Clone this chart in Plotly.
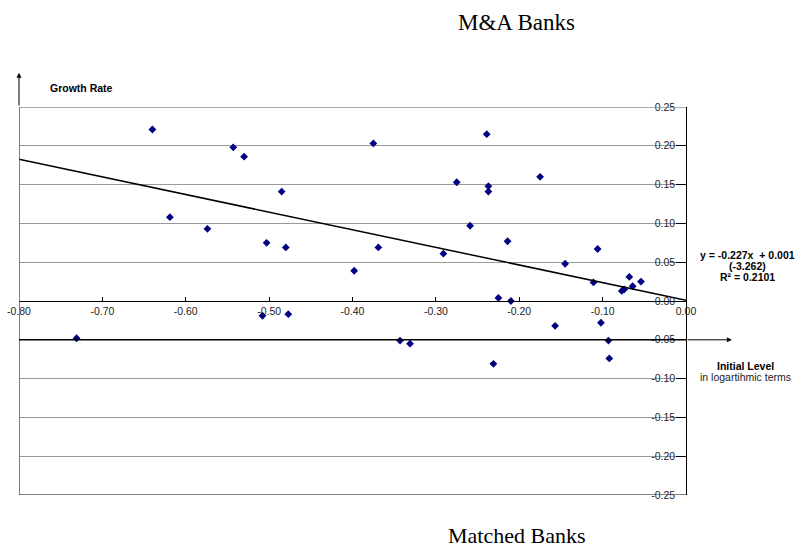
import plotly.graph_objects as go

# Initial level (log terms) and growth rate for each bank
initial_level = [
    -0.640, -0.543, -0.530, -0.619, -0.574, -0.731,
    -0.375, -0.239, -0.485, -0.275, -0.237, -0.237, -0.259, -0.503, -0.480,
    -0.369, -0.291, -0.398, -0.225, -0.508, -0.477, -0.343, -0.331,
    -0.175, -0.214, -0.145, -0.106, -0.111, -0.068, -0.054, -0.064, -0.077,
    -0.074, -0.210, -0.157, -0.102, -0.093, -0.092, -0.231,
]
growth_rate = [
    0.221, 0.198, 0.186, 0.108, 0.093, -0.048,
    0.203, 0.215, 0.141, 0.153, 0.148, 0.141, 0.097, 0.075, 0.069,
    0.069, 0.061, 0.039, 0.004, -0.019, -0.017, -0.051, -0.055,
    0.160, 0.077, 0.048, 0.067, 0.024, 0.031, 0.025, 0.019, 0.013,
    0.015, 0.000, -0.032, -0.028, -0.051, -0.074, -0.081,
]

# Fitted trend line
slope = -0.227
intercept = 0.001
t_stat = -3.262
r_squared = 0.2101

x_ticks = [-0.8, -0.7, -0.6, -0.5, -0.4, -0.3, -0.2, -0.1, 0.0]
x_tick_labels = ["-0.80", "-0.70", "-0.60", "-0.50", "-0.40", "-0.30", "-0.20", "-0.10", "0.00"]
y_ticks = [-0.25, -0.20, -0.15, -0.10, -0.05, 0.0, 0.05, 0.10, 0.15, 0.20, 0.25]
y_tick_labels = ["-0.25", "-0.20", "-0.15", "-0.10", "-0.05", "0.00", "0.05", "0.10", "0.15", "0.20", "0.25"]

X_MIN, X_MAX = -0.8, 0.0
Y_MIN, Y_MAX = -0.25, 0.25

fig = go.Figure()

fig.add_trace(go.Scatter(
    x=initial_level, y=growth_rate, mode="markers",
    marker=dict(symbol="diamond", size=6, color="#000080"),
    showlegend=False, hoverinfo="x+y",
))

trend_x = [X_MIN, X_MAX]
trend_y = [slope * v + intercept for v in trend_x]
fig.add_trace(go.Scatter(
    x=trend_x, y=trend_y, mode="lines",
    line=dict(color="black", width=1.5),
    showlegend=False, hoverinfo="skip",
))

tick_font = dict(family="Arial, Liberation Sans, sans-serif", size=10.5, color="#222")

fig.update_layout(
    width=802, height=550,
    margin=dict(l=19, r=116, t=107, b=55),
    paper_bgcolor="white", plot_bgcolor="white",
    xaxis=dict(
        range=[X_MIN, X_MAX], tickvals=x_ticks, ticktext=x_tick_labels,
        anchor="free", position=0.5, automargin=False,
        showline=True, linecolor="black", linewidth=1,
        ticks="inside", ticklen=4, tickcolor="black",
        showgrid=False, zeroline=False, tickfont=tick_font,
    ),
    yaxis=dict(
        range=[Y_MIN, Y_MAX], tickvals=y_ticks, ticktext=y_tick_labels,
        side="right", ticklabelposition="inside", ticklabeloverflow="allow",
        automargin=False,
        showline=True, linecolor="black", linewidth=1,
        ticks="inside", ticklen=10, tickcolor="black",
        showgrid=True, gridcolor="#999999", gridwidth=1.3,
        zeroline=False, tickfont=tick_font,
    ),
)

# Plot frame and the dark reference line at -0.05
fig.add_shape(type="line", xref="x", yref="y", x0=X_MIN, x1=X_MIN, y0=Y_MIN, y1=Y_MAX,
              line=dict(color="#555", width=1.5))
fig.add_shape(type="line", xref="x", yref="y", x0=X_MIN, x1=X_MAX, y0=Y_MAX, y1=Y_MAX,
              line=dict(color="#8c8c8c", width=1.3))
fig.add_shape(type="line", xref="x", yref="y", x0=X_MIN, x1=X_MAX, y0=Y_MIN, y1=Y_MIN,
              line=dict(color="#555", width=1.3))
fig.add_shape(type="line", xref="x", yref="y", x0=X_MIN, x1=X_MAX, y0=-0.05, y1=-0.05,
              line=dict(color="black", width=1.5))

# Axis arrows
fig.add_annotation(x=X_MIN, y=0.294, ax=X_MIN, ay=Y_MAX, xref="x", yref="y",
                   axref="x", ayref="y", text="", showarrow=True,
                   arrowhead=2, arrowsize=1, arrowwidth=1, arrowcolor="black")
fig.add_annotation(x=0.055, y=-0.05, ax=X_MAX, ay=-0.05, xref="x", yref="y",
                   axref="x", ayref="y", text="", showarrow=True,
                   arrowhead=2, arrowsize=1, arrowwidth=1, arrowcolor="black")

sans = "Arial, Liberation Sans, sans-serif"
serif = "Times New Roman, Liberation Serif, serif"

fig.add_annotation(text="<b>Growth Rate</b>", xref="paper", yref="paper",
                   x=0.0435, y=1.048, xanchor="left", yanchor="middle",
                   showarrow=False, font=dict(family=sans, size=10.5, color="black"))

eq_lines = [
    f"<b>y = {slope:.3f}x  + {intercept:.3f}</b>",
    f"<b>({t_stat:.3f})</b>",
    f"<b>R² = {r_squared:.4f}</b>",
]
for i, line in enumerate(eq_lines):
    fig.add_annotation(text=line, xref="paper", yref="paper",
                       x=1.0915, y=(495 - (255 + 11 * i)) / 388.3,
                       xanchor="center", yanchor="middle", showarrow=False,
                       font=dict(family=sans, size=10.5, color="black"))

fig.add_annotation(text="<b>Initial Level</b>", xref="paper", yref="paper",
                   x=1.0885, y=0.332, xanchor="center", yanchor="middle",
                   showarrow=False, font=dict(family=sans, size=10.5, color="black"))
fig.add_annotation(text="in logartihmic terms", xref="paper", yref="paper",
                   x=1.0885, y=0.304, xanchor="center", yanchor="middle",
                   showarrow=False, font=dict(family=sans, size=10.5, color="#222"))

fig.add_annotation(text="M&A Banks", xref="paper", yref="paper",
                   x=0.7466, y=1.218, xanchor="center", yanchor="middle",
                   showarrow=False, font=dict(family=serif, size=23, color="black"))
fig.add_annotation(text="Matched Banks", xref="paper", yref="paper",
                   x=0.7466, y=-0.1056, xanchor="center", yanchor="middle",
                   showarrow=False, font=dict(family=serif, size=22, color="black"))

fig.write_html("out.html")
